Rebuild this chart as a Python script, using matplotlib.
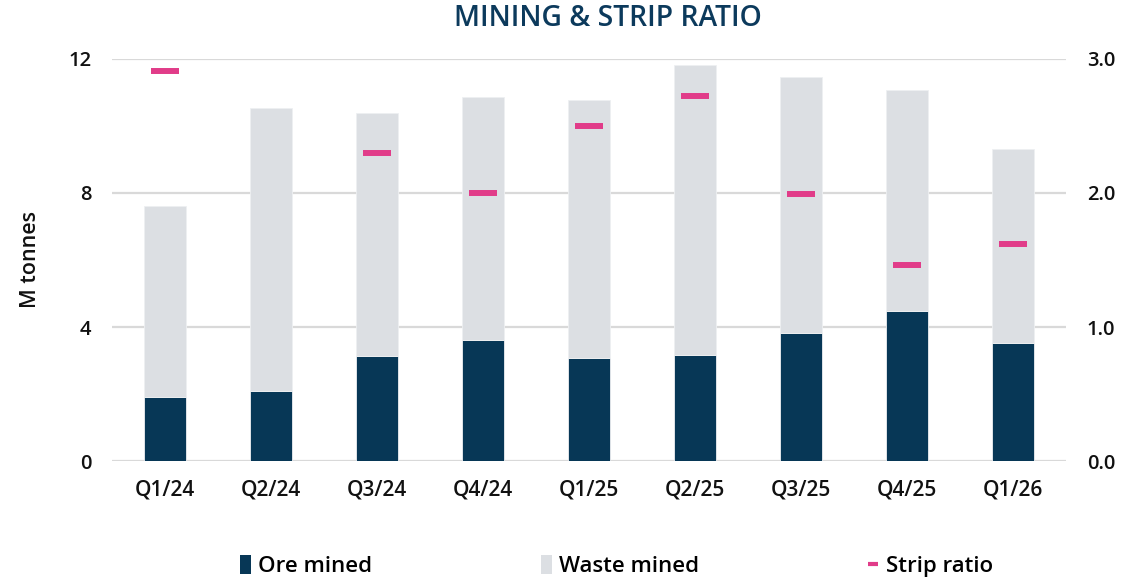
import matplotlib
matplotlib.use("Agg")
import matplotlib.pyplot as plt
import numpy as np
from matplotlib.patches import Patch
from matplotlib.lines import Line2D

categories = ["Q1/24", "Q2/24", "Q3/24", "Q4/24", "Q1/25", "Q2/25", "Q3/25", "Q4/25", "Q1/26"]
ore_mined = [1.92, 2.10, 3.14, 3.62, 3.09, 3.16, 3.83, 4.49, 3.53]
total_mined = [7.60, 10.53, 10.38, 10.85, 10.76, 11.81, 11.45, 11.07, 9.32]
waste_mined = [t - o for t, o in zip(total_mined, ore_mined)]
strip_ratio = [2.91, np.nan, 2.30, 2.00, 2.50, 2.72, 1.99, 1.46, 1.62]

left_ticks = [0, 4, 8, 12]
right_ticks = [0.0, 1.0, 2.0, 3.0]

NAVY = "#073756"
GREY = "#dcdfe3"
PINK = "#e13c89"
GRID = "#d9d9d9"

plt.rcParams["font.family"] = ["Open Sans", "DejaVu Sans"]

fig = plt.figure(figsize=(11.25, 5.81), dpi=100)
ax = fig.add_axes([0.0996, 0.2057, 0.8480, 0.6936])
ax2 = ax.twinx()

x = np.arange(len(categories))
w = 0.4
ax.bar(x, ore_mined, w, color=NAVY, edgecolor="#eef0f2", linewidth=0.6, zorder=3)
ax.bar(x, waste_mined, w, bottom=ore_mined, color=GREY, edgecolor="#eef0f2", linewidth=0.6, zorder=3)

ax2.plot(x, strip_ratio, linestyle="none", marker="_", markersize=19.5,
         markeredgewidth=4.3, color=PINK, zorder=5)

ax.set_xlim(-0.5, len(categories) - 0.5)
ax.set_ylim(0, 12)
ax2.set_ylim(0, 3)
ax.set_yticks(left_ticks)
ax.set_yticklabels([str(t) for t in left_ticks])
ax2.set_yticks(right_ticks)
ax2.set_yticklabels([f"{t:.1f}" for t in right_ticks])
ax.set_xticks(x)
ax.set_xticklabels(categories)

ax.grid(axis="y", color=GRID, linewidth=1.6, zorder=0)
ax.set_axisbelow(True)
for a in (ax, ax2):
    for s in a.spines.values():
        s.set_visible(False)
    a.tick_params(length=0)
ax.tick_params(axis="y", pad=15, labelsize=14.5)
ax.tick_params(axis="x", pad=13, labelsize=15)
ax2.tick_params(axis="y", pad=15, labelsize=14.5)
for lbl in ax.get_xticklabels() + ax.get_yticklabels() + ax2.get_yticklabels():
    lbl.set_fontweight("semibold")
    lbl.set_color("#111111")

ax.set_ylabel("M tonnes", fontsize=15.5, fontweight="semibold", color="#111111")
ax.yaxis.set_label_coords(-0.074, 0.5)

fig.text(0.540, 1 - 18 / 581, "MINING & STRIP RATIO", ha="center", va="center",
         fontsize=20.3, fontweight="semibold", color="#0c3a5c")

handles = [
    Patch(facecolor=NAVY, edgecolor="none"),
    Patch(facecolor=GREY, edgecolor="none"),
    Line2D([], [], linestyle="none", marker="_", markersize=7, markeredgewidth=3, color=PINK),
]
fig.legend(handles, ["Ore mined", "Waste mined", "Strip ratio"], loc="center",
           bbox_to_anchor=(0.548, 1 - 566 / 581), ncol=3, frameon=False,
           prop={"size": 16, "weight": "semibold"}, handlelength=0.5, handleheight=0.9,
           handletextpad=0.3, columnspacing=7.6)

fig.savefig("out.png", dpi=100)
